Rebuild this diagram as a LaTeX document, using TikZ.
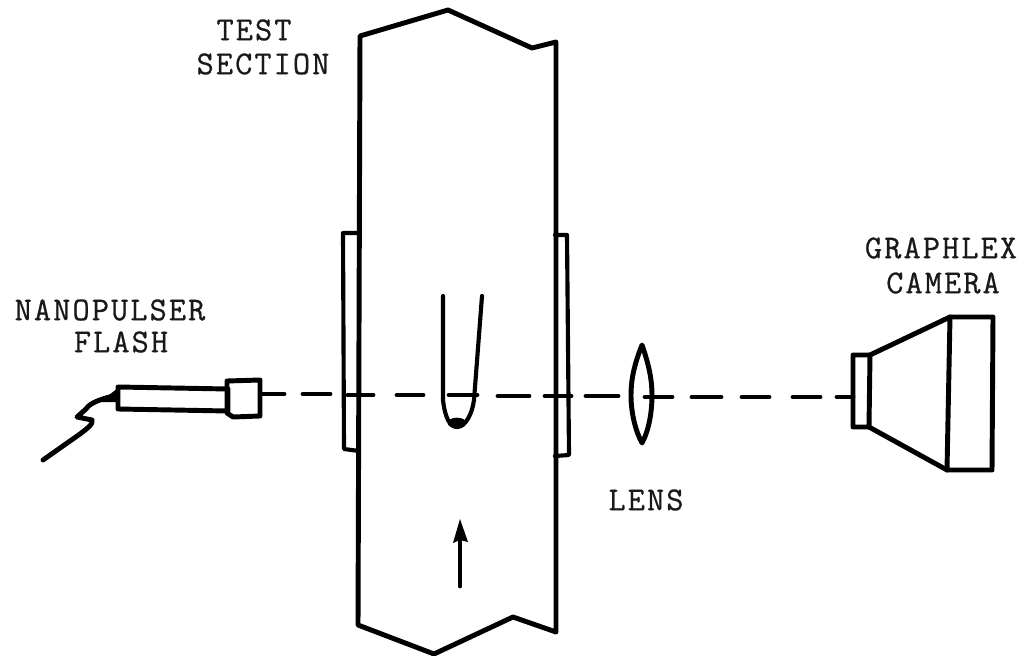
\documentclass[tikz,border=0pt]{standalone}
\usepackage{fontspec}
\newfontfamily\typewr{Latin Modern Mono}[LetterSpace=6.3,FakeBold=0.7]
\tikzset{
  ink/.style={line width=3.7pt,black,line join=round,line cap=round},
  thin ink/.style={ink,line width=3.1pt},
  beam/.style={ink,line width=3.7pt},
  lbl/.style={inner sep=0pt,align=center,text=black!90,font=\fontsize{25pt}{27pt}\typewr},
}
\begin{document}
\begin{tikzpicture}[x=0.75pt,y=-0.75pt]
\useasboundingbox[fill=white] (0,0) rectangle (1035,656);
% test section
\draw[ink] (360,36) -- (448,10) -- (532,48) -- (556,42) -- (556,632) -- (513,617) -- (434,654) -- (358,625) -- cycle;
% windows
\draw[thin ink] (359,233) -- (343,233) -- (344,449) -- (359,451);
\draw[thin ink] (555,235) -- (567,235) -- (569,455) -- (555,456);
% tube
\draw[thin ink] (443,296) -- (443,400) .. controls (445,418) and (450,427) .. (457,427) .. controls (465,427) and (472,415) .. (474,400) -- (482,296);
\fill (457,423) ellipse (7pt and 4pt);
% beam
\foreach \a/\b/\y in {263/284/394,303/330/394,348/373/395,397/423/395,449/477/395,498/529/396,545/571/396,586/618/396,645/672/397,692/721/397,742/769/397,793/820/397,837/853/397}
  \draw[beam] (\a,\y) -- (\b,\y);
% lens
\draw[ink] (642,345) .. controls (634,365) and (631,380) .. (631,395) .. controls (631,412) and (635,430) .. (642,443) .. controls (649,430) and (652,412) .. (652,395) .. controls (652,380) and (649,365) .. (642,345) -- cycle;
% flash
\draw[ink] (118,387) -- (228,389) -- (228,411) -- (118,409) -- cycle;
\draw[ink] (227,381) -- (260,380) -- (260,416) -- (233,417) -- (227,413) -- cycle;
\draw[ink] (117,395) .. controls (105,398) and (90,402) .. (86,409) -- (77,417) -- (92,420) .. controls (94,424) and (85,430) .. (80,434) -- (43,460);
\fill (118,388) -- (118,402) -- (100,402) -- cycle;
% camera
\draw[ink] (853,355) -- (870,355) -- (869,427) -- (853,427) -- cycle;
\draw[ink] (870,355) -- (950,317) -- (993,317) -- (992,470) -- (947,470) -- (869,427);
\draw[ink] (950,317) -- (947,470);
% flow arrow
\draw[ink] (460,586) -- (460,535);
\fill (460,519) -- (468,542) -- (460,540) -- (453,543) -- cycle;
% labels
\node[lbl] (test) at (254,30) {TEST};
\node[lbl] (section) at (263,64) {SECTION};
\node[lbl] (nano) at (110,310) {NANOPULSER};
\node[lbl] (flash) at (121,342) {FLASH};
\node[lbl] (graph) at (941,248) {GRAPHLEX};
\node[lbl] (cam) at (943,283) {CAMERA};
\node[lbl] (lens) at (646,500) {LENS};
\end{tikzpicture}
\end{document}
